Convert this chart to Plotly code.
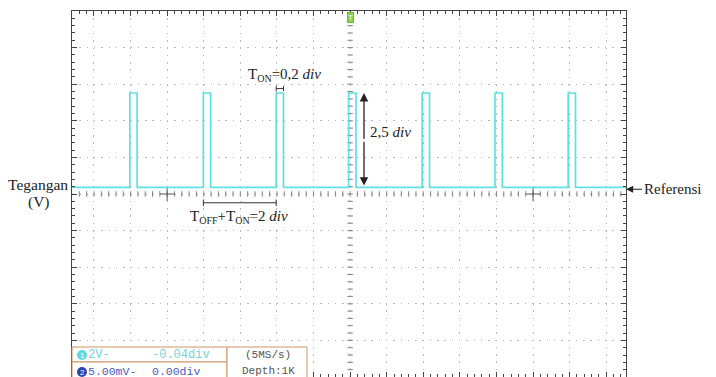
import numpy as np
import plotly.graph_objects as go

# ---- data (in oscilloscope divisions) ----
pulse_starts = [-6.02, -4.01, -2.02, -0.04, 1.97, 3.96, 5.96]
pulse_width = 0.2
level_low = 0.18
level_high = 2.76
x_range = [-7.6, 7.54]
y_range = [-5, 5]

# build step waveform
wx, wy = [x_range[0]], [level_low]
for s in pulse_starts:
    wx += [s, s, s + pulse_width, s + pulse_width]
    wy += [level_low, level_high, level_high, level_low]
wx.append(x_range[1]); wy.append(level_low)

OFF = 8  # default page body margin
W, H = 716 - OFF, 377 - OFF
PL, PR, PT, PB = 72, 626, 11, 377  # plot area in page pixels
L, R, T, B = PL - OFF, 716 - PR, PT - OFF, 0
pw, ph = PR - PL, PB - PT


def px(xp):
    return (xp - PL) / pw


def py(yp):
    return (PB - yp) / ph


fig = go.Figure()

grid_col = "#b8b8b8"
# center line ticks
cx = np.round(np.arange(-7.4, 7.5, 0.2), 2)
cy = np.round(np.arange(-4.8, 4.9, 0.2), 2)
fig.add_trace(go.Scatter(x=cx, y=np.zeros_like(cx), mode="markers",
                         marker=dict(symbol="line-ns-open", size=4, color="#888",
                                     line=dict(width=1, color="#888")),
                         hoverinfo="skip", showlegend=False))
fig.add_trace(go.Scatter(x=np.zeros_like(cy), y=cy, mode="markers",
                         marker=dict(symbol="line-ew-open", size=4, color="#888",
                                     line=dict(width=1, color="#888")),
                         hoverinfo="skip", showlegend=False))
fig.add_trace(go.Scatter(x=[-5, 5], y=[0, 0], mode="markers",
                         marker=dict(symbol="cross-thin-open", size=10, color="#555",
                                     line=dict(width=1, color="#555")),
                         hoverinfo="skip", showlegend=False))

# waveform
fig.add_trace(go.Scatter(x=wx, y=wy, mode="lines",
                         line=dict(color="#5fe0e6", width=1.7),
                         hoverinfo="skip", showlegend=False))

axis_common = dict(showgrid=True, gridcolor=grid_col, gridwidth=1, griddash="1.5px,5.8px",
                   zeroline=False, showline=True, linecolor="#444", linewidth=1,
                   mirror="ticks", ticks="inside", ticklen=5, tickcolor="#444",
                   showticklabels=False, tick0=0, dtick=1,
                   minor=dict(ticks="inside", dtick=0.2, ticklen=3, tickcolor="#444", showgrid=False))

fig.update_xaxes(range=x_range, **axis_common)
fig.update_yaxes(range=y_range, **axis_common)

shapes = []
# center dotted lines
shapes.append(dict(type="line", xref="x", yref="y", x0=x_range[0], x1=x_range[1], y0=0, y1=0,
                   line=dict(color="#999", width=1, dash="1.5px,5.8px"), layer="below"))
shapes.append(dict(type="line", xref="x", yref="y", x0=0, x1=0, y0=y_range[0], y1=y_range[1],
                   line=dict(color="#999", width=1, dash="1.5px,5.8px"), layer="below"))

# T_ON bracket
b_y = 2.88
s0 = pulse_starts[2]
shapes.append(dict(type="line", xref="x", yref="y", x0=s0, x1=s0 + pulse_width, y0=b_y, y1=b_y,
                   line=dict(color="#333", width=1)))
for xx in (s0, s0 + pulse_width):
    shapes.append(dict(type="line", xref="x", yref="y", x0=xx, x1=xx, y0=b_y - 0.07, y1=b_y + 0.07,
                       line=dict(color="#333", width=1)))
# T_OFF + T_ON bracket
b2 = -0.24
a0, a1 = pulse_starts[1], pulse_starts[2]
shapes.append(dict(type="line", xref="x", yref="y", x0=a0, x1=a1, y0=b2, y1=b2,
                   line=dict(color="#333", width=1)))
for xx in (a0, a1):
    shapes.append(dict(type="line", xref="x", yref="y", x0=xx, x1=xx, y0=b2 - 0.09, y1=b2 + 0.09,
                       line=dict(color="#333", width=1)))

# status box
box_col = "#cf9466"
shapes.append(dict(type="rect", xref="paper", yref="paper", x0=px(72), x1=px(227), y0=py(362), y1=py(347),
                   line=dict(color=box_col, width=1), fillcolor="white"))
shapes.append(dict(type="rect", xref="paper", yref="paper", x0=px(72), x1=px(227), y0=py(378), y1=py(362),
                   line=dict(color=box_col, width=1), fillcolor="white"))
shapes.append(dict(type="rect", xref="paper", yref="paper", x0=px(227), x1=px(307), y0=py(378), y1=py(347),
                   line=dict(color=box_col, width=1), fillcolor="white"))
# channel circles
shapes.append(dict(type="circle", xref="paper", yref="paper", x0=px(77), x1=px(87), y0=py(360), y1=py(350),
                   line=dict(width=0), fillcolor="#5fd8e2"))
shapes.append(dict(type="circle", xref="paper", yref="paper", x0=px(77), x1=px(87), y0=py(377), y1=py(367),
                   line=dict(width=0), fillcolor="#2f45b0"))

ann = []
serif = "Liberation Serif, Times New Roman, serif"
mono = "Liberation Mono, Courier New, monospace"
ink = "#222"
sub = lambda s: "<sub><span style='font-size:10px'>%s</span></sub>" % s


def txt(x, y, text, size, color=ink, family=serif, xanchor="center", xref="paper", yref="paper"):
    ann.append(dict(x=x, y=y, xref=xref, yref=yref, showarrow=False, text=text,
                    xanchor=xanchor, yanchor="middle",
                    font=dict(family=family, size=size, color=color)))


txt(-1.78, 3.25, "T" + sub("ON") + "=0,2 <i>div</i>", 15, xref="x", yref="y")
txt(0.5, 1.70, "2,5 <i>div</i>", 15, xanchor="left", xref="x", yref="y")
txt(-3.03, -0.62, "T" + sub("OFF") + "+T" + sub("ON") + "=2 <i>div</i>", 15, xref="x", yref="y")

# double arrow 2.5 div
arr_x = 0.38
mid = (level_high + level_low) / 2
for tip in (level_high, level_low + 0.05):
    ann.append(dict(x=arr_x, y=tip, ax=arr_x, ay=mid, xref="x", yref="y",
                    axref="x", ayref="y", showarrow=True, arrowhead=2, arrowsize=1.3, arrowwidth=1.3,
                    arrowcolor=ink, text=""))

# Tegangan (V)
txt(px(70), py(184), "Tegangan", 15.5, xanchor="right")
txt(px(39), py(202), "(V)", 15.5)

# Referensi
ann.append(dict(x=1.0, y=level_low - 0.05, xref="paper", yref="y", ax=46, ay=0, showarrow=True,
                arrowhead=2, arrowsize=1.2, arrowwidth=1.2, arrowcolor=ink,
                text="Referensi", font=dict(family=serif, size=15, color=ink),
                xanchor="center", yanchor="middle"))

# trigger marker
ann.append(dict(x=0, y=py(17), xref="x", yref="paper", showarrow=False, text="T",
                xanchor="center", yanchor="middle",
                font=dict(family="Liberation Sans", size=8, color="white"),
                bgcolor="#86d04a", bordercolor="#6cbc34", borderwidth=1, borderpad=0))

# status box text
sans = "Liberation Sans"
txt(px(82), py(355), "1", 8, color="white", family=sans)
txt(px(82), py(372), "2", 8, color="white", family=sans)
txt(px(86), py(355), "2V-", 12, color="#6fd6df", family=mono, xanchor="left")
txt(px(150), py(355), "-0.04div", 12, color="#6fd6df", family=mono, xanchor="left")
txt(px(86), py(371), "5.00mV-", 11.5, color="#4a5cbd", family=mono, xanchor="left")
txt(px(150), py(371), "0.00div", 11.5, color="#4a5cbd", family=mono, xanchor="left")
txt(px(268), py(355), "(5MS/s)", 11, color="#555", family=mono)
txt(px(268), py(371), "Depth:1K", 11, color="#555", family=mono)

fig.update_layout(width=W, height=H, margin=dict(l=L, r=R, t=T, b=B, pad=0),
                  paper_bgcolor="white", plot_bgcolor="white",
                  shapes=shapes, annotations=ann, showlegend=False)

fig.write_html("out.html")
